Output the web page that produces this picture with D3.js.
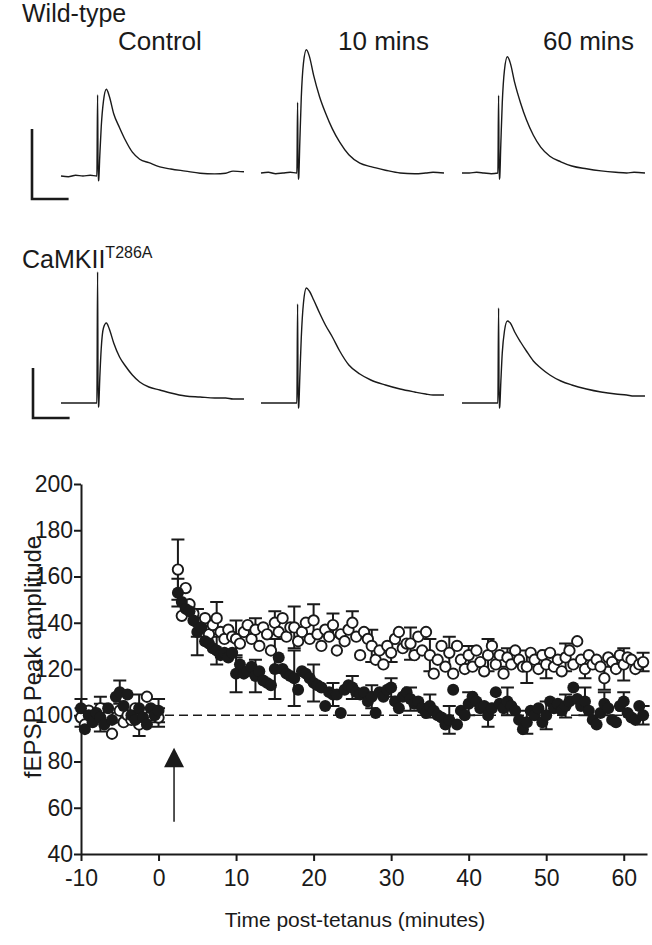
<!DOCTYPE html>
<html>
<head>
<meta charset="utf-8">
<script src="https://cdn.jsdelivr.net/npm/d3@7"></script>
<style>
  body { margin: 0; background: #fff; }
  svg { display: block; }
  text { font-family: "Liberation Sans", Arial, sans-serif; fill: #1a1a1a; }
</style>
</head>
<body>
<svg width="652" height="945"></svg>
<script>
// ---- trace data (ms, mV relative to baseline) ----
var traceTimes = [0, 2, 4, 6, 8, 9.8, 10, 10.15, 10.3, 10.6, 11, 11.6, 12.4, 13.2, 14.4, 16, 17.6, 19.5, 21.5, 24, 27, 30, 34, 38, 42, 45, 47, 50];
var traceLabels = ["Control", "10 mins", "60 mins"];
var wtControl = [0, -0.01, 0.01, 0, 0.01, 0, 1.16, -0.07, -0.06, 0.29, 0.71, 1.07, 1.24, 1.14, 0.89, 0.69, 0.51, 0.34, 0.24, 0.19, 0.13, 0.10, 0.07, 0.04, 0.03, 0.04, 0.07, 0.06];
var wt10 = [0, 0.01, -0.01, 0, 0.01, 0, 1.01, -0.09, -0.07, 0.43, 1.07, 1.57, 1.76, 1.67, 1.39, 1.09, 0.86, 0.63, 0.44, 0.26, 0.14, 0.09, 0.04, 0, -0.01, 0, 0.01, 0];
var wt60 = [0, 0, 0.01, 0, -0.01, 0, 1.11, -0.09, -0.07, 0.40, 1.00, 1.47, 1.66, 1.57, 1.29, 1.00, 0.76, 0.54, 0.37, 0.24, 0.16, 0.10, 0.06, 0.03, 0.01, 0, 0.01, 0];
var mutControl = [0, 0, 0, 0, 0, 0, 2.62, -0.08, -0.06, 0.5, 1.1, 1.5, 1.6, 1.48, 1.2, 0.92, 0.74, 0.56, 0.42, 0.32, 0.26, 0.2, 0.14, 0.12, 0.1, 0.1, 0.08, 0.08];
var mut10 = [0, 0, 0, 0, 0, 0, 1.98, -0.1, -0.08, 0.5, 1.3, 2.0, 2.3, 2.24, 2.06, 1.8, 1.56, 1.32, 1.04, 0.76, 0.58, 0.46, 0.36, 0.28, 0.22, 0.18, 0.16, 0.16];
var mut60 = [0, 0, 0, 0, 0, 0, 1.9, -0.1, -0.08, 0.4, 1.0, 1.44, 1.64, 1.6, 1.42, 1.22, 1.04, 0.84, 0.7, 0.56, 0.44, 0.36, 0.28, 0.22, 0.18, 0.16, 0.14, 0.14];

// ---- time course data (% of baseline) ----
var preTimes = d3.range(-10, 0.01, 0.5);
var postTimes = d3.range(2.5, 62.51, 0.5);
var wtPre = [99, 96, 102, 98, 101, 103, 97, 100, 92, 99, 102, 97, 100, 98, 103, 96, 101, 108, 100, 102, 99];
var mutPre = [103, 94, 100, 97, 101, 99, 96, 103, 98, 108, 110, 104, 109, 100, 98, 103, 99, 96, 103, 100, 102];
var wtPost = [163, 143, 155, 148, 144, 140, 138, 142, 135, 139,
              142, 136, 133, 137, 134, 133, 131, 136, 139, 133,
              137, 130, 138, 135, 128, 140, 136, 142, 134, 138,
              138, 132, 136, 140, 133, 141, 135, 130, 137, 134,
              139, 128, 135, 132, 137, 140, 134, 126, 136, 133,
              130, 124, 128, 122, 130, 127, 133, 136, 129, 131,
              131, 126, 134, 128, 136, 126, 118, 124, 130, 121,
              127, 118, 130, 124, 120, 126, 121, 128, 123, 119,
              126, 130, 122, 126, 118, 125, 122, 128, 124, 121,
              121, 127, 124, 120, 126, 122, 127, 121, 124, 119,
              125, 128, 122, 132, 124, 120, 126, 122, 124, 121,
              116, 125, 123, 120, 126, 122, 125, 124, 120, 122,
              123];
var mutPost = [153, 149, 146, 145, 141, 136, 138, 132, 131, 129,
               128, 126, 127, 125, 127, 118, 122, 118, 119, 121,
               117, 119, 115, 114, 113, 120, 125, 120, 118, 117,
               116, 111, 119, 118, 116, 114, 113, 112, 104, 110,
               109, 109, 101, 111, 113, 112, 110, 109, 110, 106,
               108, 101, 110, 108, 111, 112, 106, 103, 108, 110,
               107, 105, 106, 103, 101, 104, 102, 100, 99, 96,
               98, 111, 96, 102, 100, 105, 108, 106, 103, 104,
               100, 103, 110, 105, 103, 106, 104, 102, 98, 94,
               97, 102, 100, 103, 97, 100, 106, 103, 105, 102,
               104, 106, 112, 107, 104, 106, 102, 98, 96, 101,
               105, 103, 98, 97, 104, 106, 101, 99, 98, 104,
               100];
// SEM shown on every 5th point
var errEvery = 5;
var wtPreSem = [4, 5, 4, 5, 4];
var mutPreSem = [4, 6, 5, 6, 5];
var wtPostSem = [13, 6, 7, 8, 5, 5, 9, 7, 5, 5, 7, 4, 7, 7, 7, 4, 7, 4, 7, 6, 6, 4, 5, 7, 4];
var mutPostSem = [6, 10, 6, 8, 7, 13, 12, 8, 5, 5, 5, 4, 5, 5, 6, 5, 5, 6, 5, 6, 5, 6, 5, 4, 4];
var xTicks = [-10, 0, 10, 20, 30, 40, 50, 60];
var yTicks = [40, 60, 80, 100, 120, 140, 160, 180, 200];
var tetanusTime = 2;

var svg = d3.select("svg");
var ink = "#1a1a1a";

// ---------- traces ----------
var rows = [
    {traces: [wtControl, wt10, wt60], base: [176, 173, 173], pxPerMv: 70, barX: 32, barBottom: 199},
    {traces: [mutControl, mut10, mut60], base: [403, 403, 403], pxPerMv: 50, barX: 33, barBottom: 418}
];
var panelLeft = [61, 261, 462];
var tx = d3.scaleLinear().domain([0, 50]).range([0, 183]);

rows.forEach(function (row) {
    row.traces.forEach(function (tr, k) {
        var ty = d3.scaleLinear().domain([0, 1]).range([row.base[k], row.base[k] - row.pxPerMv]);
        var line = d3.line()
            .x(function (d, i) { return tx(traceTimes[i]); })
            .y(function (d) { return ty(d); })
            .curve(d3.curveMonotoneX);
        svg.append("path")
            .attr("transform", "translate(" + panelLeft[k] + ",0)")
            .attr("d", line(tr))
            .attr("fill", "none")
            .attr("stroke", ink)
            .attr("stroke-width", 1.4);
    });
    // scale bar: 1 mV x 10 ms
    svg.append("path")
        .attr("d", "M" + row.barX + "," + (row.barBottom - row.pxPerMv) + "V" + row.barBottom + "H" + (row.barX + tx(10)))
        .attr("fill", "none")
        .attr("stroke", ink)
        .attr("stroke-width", 2.6);
});

svg.append("text").attr("x", 22).attr("y", 22).attr("font-size", 25).text("Wild-type");
var lab = svg.append("text").attr("x", 22).attr("y", 268).attr("font-size", 25).text("CaMKII");
lab.append("tspan").attr("font-size", 16).attr("dy", -10).text("T286A");
var labelX = [118, 338, 543];
traceLabels.forEach(function (t, k) {
    svg.append("text").attr("x", labelX[k]).attr("y", 50).attr("font-size", 26).text(t);
});

// ---------- time course ----------
var x = d3.scaleLinear().domain([-10, 63]).range([81, 647]);
var y = d3.scaleLinear().domain([40, 200]).range([854, 484]);

var gx = svg.append("g")
    .attr("transform", "translate(0," + y(40) + ")")
    .call(d3.axisBottom(x).tickValues(xTicks).tickSize(7).tickSizeOuter(0).tickPadding(9));
var gy = svg.append("g")
    .attr("transform", "translate(" + x(-10) + ",0)")
    .call(d3.axisLeft(y).tickValues(yTicks).tickSize(7).tickSizeOuter(0).tickPadding(1));
gx.selectAll(".tick text").text(function (d) { return String(d); });
[gx, gy].forEach(function (g) {
    g.select(".domain").attr("stroke", ink).attr("stroke-width", 2);
    g.selectAll(".tick line").attr("stroke", ink).attr("stroke-width", 2);
    g.selectAll(".tick text").attr("font-size", 23).attr("fill", ink)
        .attr("font-family", "Liberation Sans, Arial, sans-serif");
});

svg.append("text")
    .attr("x", 355).attr("y", 927)
    .attr("text-anchor", "middle").attr("font-size", 21)
    .text("Time post-tetanus (minutes)");
svg.append("text")
    .attr("transform", "translate(41," + 657 + ") rotate(-90)")
    .attr("text-anchor", "middle").attr("font-size", 24)
    .text("fEPSP Peak amplitude");

// baseline reference
svg.append("line")
    .attr("x1", x(-10)).attr("x2", x(62.7))
    .attr("y1", y(100)).attr("y2", y(100))
    .attr("stroke", ink).attr("stroke-width", 1.6)
    .attr("stroke-dasharray", "9,5");

function series(pre, post, preSem, postSem) {
    var pts = [];
    pre.forEach(function (v, i) { pts.push({t: preTimes[i], v: v, sem: i % errEvery === 0 ? preSem[i / errEvery] : 0}); });
    post.forEach(function (v, i) { pts.push({t: postTimes[i], v: v, sem: i % errEvery === 0 ? postSem[i / errEvery] : 0}); });
    return pts;
}
var wt = series(wtPre, wtPost, wtPreSem, wtPostSem);
var mut = series(mutPre, mutPost, mutPreSem, mutPostSem);

var eg = svg.append("g").attr("stroke", ink).attr("stroke-width", 2).attr("fill", "none");
wt.concat(mut).filter(function (d) { return d.sem > 0; }).forEach(function (d) {
    var cx = x(d.t), y1 = y(d.v + d.sem), y2 = y(d.v - d.sem);
    eg.append("path").attr("d", "M" + cx + "," + y1 + "V" + y2 +
        "M" + (cx - 6.5) + "," + y1 + "H" + (cx + 6.5) +
        "M" + (cx - 6.5) + "," + y2 + "H" + (cx + 6.5));
});

svg.append("g").selectAll("circle").data(wt).enter().append("circle")
    .attr("cx", function (d) { return x(d.t); })
    .attr("cy", function (d) { return y(d.v); })
    .attr("r", 5.2)
    .attr("fill", "#fff").attr("stroke", ink).attr("stroke-width", 1.9);
svg.append("g").selectAll("circle").data(mut).enter().append("circle")
    .attr("cx", function (d) { return x(d.t); })
    .attr("cy", function (d) { return y(d.v); })
    .attr("r", 6)
    .attr("fill", ink);

// tetanus arrow
svg.append("line")
    .attr("x1", x(tetanusTime)).attr("x2", x(tetanusTime))
    .attr("y1", y(54)).attr("y2", y(78))
    .attr("stroke", ink).attr("stroke-width", 1.5);
svg.append("path")
    .attr("d", "M" + x(tetanusTime) + "," + y(86) + "L" + (x(tetanusTime) + 10) + "," + y(77.5) + "L" + (x(tetanusTime) - 10) + "," + y(77.5) + "Z")
    .attr("fill", ink);
</script>
</body>
</html>
